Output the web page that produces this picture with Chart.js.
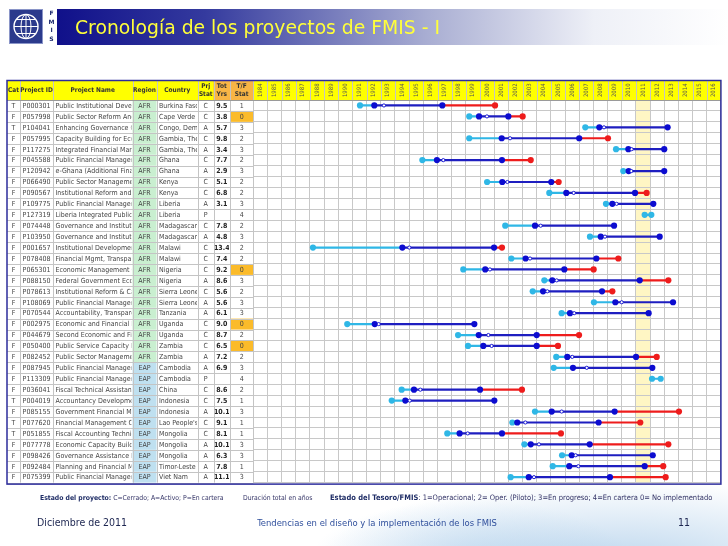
<!DOCTYPE html>
<html>
<head>
<meta charset="utf-8">
<script src="https://cdn.jsdelivr.net/npm/chart.js@4.4.0/dist/chart.umd.min.js"></script>
<style>
  html, body { margin: 0; padding: 0; width: 728px; height: 546px; overflow: hidden; }
  body {
    background:
      radial-gradient(ellipse 300px 80px at 620px 560px, rgba(140, 185, 225, 0.55), rgba(255, 255, 255, 0) 100%),
      radial-gradient(ellipse 160px 60px at 470px 560px, rgba(170, 205, 235, 0.45), rgba(255, 255, 255, 0) 100%),
      #fff;
  }
  canvas { display: block; }
</style>
</head>
<body>
<canvas id="timeline" width="728" height="546"></canvas>
<script>
// ---- datos de la tabla ----
const cats = ["T", "F", "T", "F", "F", "F", "F", "F", "F", "F", "F", "F", "F", "F", "F", "F", "F", "F",
  "F", "F", "F", "F", "F", "F", "F", "F", "F", "T", "F", "T", "T", "F", "F", "F", "F"];
const projectIds = ["P000301", "P057998", "P104041", "P057995", "P117275", "P045588", "P120942", "P066490",
  "P090567", "P109775", "P127319", "P074448", "P103950", "P001657", "P078408", "P065301", "P088150",
  "P078613", "P108069", "P070544", "P002975", "P044679", "P050400", "P082452", "P087945", "P113309",
  "P036041", "P004019", "P085155", "P077620", "P051855", "P077778", "P098426", "P092484", "P075399"];
const projectNames = ["Public Institutional Devel", "Public Sector Reform And", "Enhancing Governance Ca",
  "Capacity Building for Econ", "Integrated Financial Mana", "Public Financial Managem",
  "e-Ghana (Additional Finar", "Public Sector Managemen", "Institutional Reform and C",
  "Public Financial Managem", "Liberia Integrated Public F", "Governance and Institutio",
  "Governance and Institutio", "Institutional Development", "Financial Mgmt, Transpar",
  "Economic Management Ca", "Federal Government Econ", "Institutional Reform & Cap",
  "Public Financial Managem", "Accountability, Transpare", "Economic and Financial M",
  "Second Economic and Fina", "Public Service Capacity Bu", "Public Sector Managemen",
  "Public Financial Managem", "Public Financial Managem", "Fiscal Technical Assistanc",
  "Accountancy Development", "Government Financial Ma", "Financial Management Ca",
  "Fiscal Accounting Technic", "Economic Capacity Buildi", "Governance Assistance Pr",
  "Planning and Financial M", "Public Financial Managem"];
const regions = ["AFR", "AFR", "AFR", "AFR", "AFR", "AFR", "AFR", "AFR", "AFR", "AFR", "AFR", "AFR",
  "AFR", "AFR", "AFR", "AFR", "AFR", "AFR", "AFR", "AFR", "AFR", "AFR", "AFR", "AFR",
  "EAP", "EAP", "EAP", "EAP", "EAP", "EAP", "EAP", "EAP", "EAP", "EAP", "EAP"];
const countries = ["Burkina Faso", "Cape Verde", "Congo, Demo", "Gambia, The", "Gambia, The", "Ghana",
  "Ghana", "Kenya", "Kenya", "Liberia", "Liberia", "Madagascar", "Madagascar", "Malawi", "Malawi",
  "Nigeria", "Nigeria", "Sierra Leone", "Sierra Leone", "Tanzania", "Uganda", "Uganda", "Zambia",
  "Zambia", "Cambodia", "Cambodia", "China", "Indonesia", "Indonesia", "Lao People's", "Mongolia",
  "Mongolia", "Mongolia", "Timor-Leste", "Viet Nam"];
const prjStats = ["C", "C", "A", "C", "A", "C", "A", "C", "C", "A", "P", "C", "A", "C", "C", "C", "A",
  "C", "A", "A", "C", "C", "C", "A", "A", "P", "C", "C", "A", "C", "C", "A", "A", "A", "A"];
const totYears = [9.5, 3.8, 5.7, 9.8, 3.4, 7.7, 2.9, 5.1, 6.8, 3.1, null, 7.8, 4.8, 13.4, 7.4, 9.2, 8.6,
  5.6, 5.6, 6.1, 9.0, 8.7, 6.5, 7.2, 6.9, null, 8.6, 7.5, 10.1, 9.1, 8.1, 10.1, 6.3, 7.8, 11.1];
const tfStats = [1, 0, 3, 2, 3, 2, 3, 2, 2, 3, 4, 2, 3, 2, 2, 0, 3, 2, 3, 3, 0, 2, 0, 2, 3, 4, 2, 1, 3,
  1, 1, 3, 3, 1, 3];

// ---- fechas del cronograma (años) ----
const startYears = [1991.53, 1999.24, 2007.43, 1999.24, 2009.60, 1995.93, 2010.11, 2000.50, 2004.89,
  2008.89, 2011.62, 2001.78, 2007.76, 1988.21, 2002.21, 1998.82, 2004.54, 2003.72, 2008.04, 2005.76,
  1990.63, 1998.45, 1999.15, 2005.38, 2005.20, 2012.14, 1994.47, 1993.77, 2003.88, 2002.28, 1997.69,
  2003.13, 2005.79, 2005.13, 2002.16];
const approvalYears = [1992.54, 1999.93, 2008.42, 2001.53, 2010.47, 1996.96, 2010.49, 2001.57, 2006.09,
  2009.34, 2012.09, 2003.88, 2008.52, 1994.52, 2003.22, 2000.37, 2005.10, 2004.45, 2009.55, 2006.35,
  1992.57, 1999.91, 2000.23, 2006.16, 2006.56, 2012.75, 1995.34, 1994.73, 2005.06, 2002.63, 1998.56,
  2003.58, 2006.47, 2006.30, 2003.44];
const effectiveYears = [1993.22, 2000.49, 2008.75, 2002.12, 2010.70, 1997.41, 2010.68, 2001.93, 2006.61,
  2009.64, null, 2004.28, 2008.82, 1995.01, 2003.53, 2000.70, 2005.41, 2004.75, 2010.00, 2006.65,
  1992.85, 2000.59, 2000.82, 2006.51, 2007.53, null, 1995.79, 1995.04, 2005.76, 2003.20, 1999.13,
  2004.16, 2006.75, 2006.94, 2003.81];
const closingYears = [1997.34, 2002.00, 2013.24, 2007.00, 2013.00, 2001.55, 2013.00, 2005.03, 2010.94,
  2012.23, null, 2009.46, 2012.68, 2000.99, 2008.21, 2005.95, 2011.27, 2008.61, 2013.62, 2011.90,
  1999.60, 2004.00, 2004.00, 2011.01, 2012.16, null, 2000.00, 2001.01, 2009.50, 2008.37, 2001.55,
  2007.74, 2012.19, 2011.62, 2009.17];
const revisedClosingYears = [2001.06, 2003.01, null, 2009.03, null, 2003.58, null, 2005.55, 2011.76,
  null, null, null, null, 2001.55, 2009.76, 2008.02, 2013.29, 2009.34, null, null, null, 2006.99,
  2005.50, 2012.47, null, null, 2002.96, null, 2014.04, 2011.31, 2005.71, 2013.29, null, 2012.93, 2013.10];

const yearLabels = ["1984", "1985", "1986", "1987", "1988", "1989", "1990", "1991", "1992", "1993",
  "1994", "1995", "1996", "1997", "1998", "1999", "2000", "2001", "2002", "2003", "2004", "2005",
  "2006", "2007", "2008", "2009", "2010", "2011", "2012", "2013", "2014", "2015", "2016"];
const headerLabels = ["Cat", "Project ID", "Project Name", "Region", "Country", "Prj\nStat", "Tot\nYrs", "T/F\nStat"];

// ---- layout ----
const colEdges = [7, 20, 53, 132.5, 156.5, 198, 213.5, 230, 253.3];
const colAlign = ["center", "center", "left", "center", "left", "center", "center", "center"];
const tableTop = 80.5;
const FONT = "'Liberation Sans Narrow', 'DejaVu Sans Condensed', sans-serif";

function segment(from, to, skipPipeline) {
  const pts = [];
  from.forEach((a, i) => {
    const b = to[i];
    if (a == null || b == null) return;
    if (skipPipeline && prjStats[i] === "P") return;
    pts.push({ x: a, y: i + 0.5 }, { x: b, y: i + 0.5 }, { x: b, y: null });
  });
  return pts;
}

function dots(list, test) {
  const pts = [];
  list.forEach((v, i) => {
    if (v != null && (!test || test(i))) pts.push({ x: v, y: i + 0.5 });
  });
  return pts;
}

const lightLine = segment(startYears, approvalYears, false);
const darkLine = segment(approvalYears, closingYears, true);
const redLine = segment(closingYears, revisedClosingYears, false);

const lightDots = dots(startYears).concat(dots(approvalYears, (i) => prjStats[i] === "P"));
const darkDots = dots(approvalYears, (i) => prjStats[i] !== "P").concat(dots(closingYears));
const openDots = dots(effectiveYears);
const redDots = dots(revisedClosingYears);

function drawText(ctx, parts, x, y) {
  parts.forEach(([txt, font, color]) => {
    ctx.font = font;
    ctx.fillStyle = color;
    ctx.fillText(txt, x, y);
    x += ctx.measureText(txt).width;
  });
}

const slidePlugin = {
  id: "slide",
  beforeDraw(chart) {
    const { ctx } = chart;
    const x = chart.scales.x, y = chart.scales.y;
    const headBottom = y.getPixelForValue(0);
    const bottom = y.getPixelForValue(35);
    ctx.save();

    // barra de titulo
    const grad = ctx.createLinearGradient(57, 0, 728, 0);
    grad.addColorStop(0, "#10108a");
    grad.addColorStop(0.22, "#343a9e");
    grad.addColorStop(0.55, "#a8add2");
    grad.addColorStop(0.8, "#eef0f7");
    grad.addColorStop(1, "#ffffff");
    ctx.fillStyle = grad;
    ctx.fillRect(57, 9, 671, 36);

    // logo
    ctx.fillStyle = "#2b3a8c";
    ctx.fillRect(9, 9, 34, 35);
    ctx.strokeStyle = "#8a95c8";
    ctx.lineWidth = 1;
    ctx.strokeRect(9.5, 9.5, 33, 34);
    ctx.strokeStyle = "#ffffff";
    ctx.lineWidth = 1.4;
    ctx.beginPath(); ctx.arc(26, 26.5, 12, 0, Math.PI * 2); ctx.stroke();
    ctx.lineWidth = 1;
    ctx.beginPath(); ctx.ellipse(26, 26.5, 5, 12, 0, 0, Math.PI * 2); ctx.stroke();
    ctx.beginPath(); ctx.moveTo(26, 14.5); ctx.lineTo(26, 38.5); ctx.stroke();
    [-7, 0, 7].forEach((d) => {
      const hw = Math.sqrt(144 - d * d);
      ctx.beginPath(); ctx.moveTo(26 - hw, 26.5 + d); ctx.lineTo(26 + hw, 26.5 + d); ctx.stroke();
    });
    ctx.fillStyle = "#1d2a6e";
    ctx.font = "bold 6px 'DejaVu Sans', sans-serif";
    ctx.textAlign = "center";
    ctx.textBaseline = "middle";
    ["F", "M", "I", "S"].forEach((ch, k) => ctx.fillText(ch, 51.5, 13.5 + k * 8.5));

    // titulo
    ctx.textAlign = "left";
    ctx.textBaseline = "alphabetic";
    ctx.fillStyle = "#ffff3a";
    ctx.font = "18.8px 'DejaVu Sans', sans-serif";
    ctx.fillText("Cronología de los proyectos de FMIS - I", 75, 34);

    // fondo de la tabla
    ctx.fillStyle = "#ffffff";
    ctx.fillRect(7, tableTop, x.right - 7, bottom - tableTop);
    ctx.fillStyle = "#ffff00";
    ctx.fillRect(7, tableTop, x.right - 7, headBottom - tableTop);
    ctx.fillStyle = "#f8b545";
    ctx.fillRect(colEdges[6], tableTop, colEdges[8] - colEdges[6], headBottom - tableTop);

    for (let i = 0; i < regions.length; i++) {
      const t = y.getPixelForValue(i), b = y.getPixelForValue(i + 1);
      ctx.fillStyle = regions[i] === "AFR" ? "#c9efd0" : "#bfe0f0";
      ctx.fillRect(colEdges[3], t, colEdges[4] - colEdges[3], b - t);
      if (tfStats[i] === 0) {
        ctx.fillStyle = "#fbbb2a";
        ctx.fillRect(colEdges[7], t, colEdges[8] - colEdges[7], b - t);
      }
    }
    // columna 2011 resaltada
    const x0 = x.getPixelForValue(2011), x1 = x.getPixelForValue(2012);
    ctx.fillStyle = "#fff6c4";
    ctx.fillRect(x0, headBottom, x1 - x0, bottom - headBottom);
    ctx.restore();
  },
  afterDraw(chart) {
    const { ctx } = chart;
    const x = chart.scales.x, y = chart.scales.y;
    const headBottom = y.getPixelForValue(0);
    const bottom = y.getPixelForValue(35);
    ctx.save();

    // lineas de la tabla
    ctx.strokeStyle = "#c4c4c4";
    ctx.lineWidth = 1;
    for (let i = 1; i <= 35; i++) {
      const py = Math.round(y.getPixelForValue(i)) + 0.5;
      ctx.beginPath(); ctx.moveTo(7, py); ctx.lineTo(colEdges[8], py); ctx.stroke();
    }
    colEdges.slice(1).forEach((cx) => {
      const px = Math.round(cx) + 0.5;
      ctx.beginPath(); ctx.moveTo(px, tableTop); ctx.lineTo(px, bottom); ctx.stroke();
    });
    for (let k = 1; k < yearLabels.length; k++) {
      const px = Math.round(x.getPixelForValue(1984 + k)) + 0.5;
      ctx.beginPath(); ctx.moveTo(px, tableTop); ctx.lineTo(px, headBottom); ctx.stroke();
    }
    ctx.strokeStyle = "#9a9a9a";
    ctx.beginPath(); ctx.moveTo(7, Math.round(headBottom) + 0.5); ctx.lineTo(x.right, Math.round(headBottom) + 0.5); ctx.stroke();

    // encabezados
    ctx.fillStyle = "#333333";
    ctx.textAlign = "center";
    ctx.textBaseline = "middle";
    ctx.font = "bold 6.5px " + FONT;
    const hMid = (tableTop + headBottom) / 2;
    headerLabels.forEach((lab, c) => {
      const cx = (colEdges[c] + colEdges[c + 1]) / 2;
      const lines = lab.split("\n");
      lines.forEach((ln, k) => ctx.fillText(ln, cx, hMid + (k - (lines.length - 1) / 2) * 7.5));
    });
    ctx.font = "6px " + FONT;
    ctx.fillStyle = "#555555";
    yearLabels.forEach((lab, k) => {
      const cx = x.getPixelForValue(1984 + k + 0.5);
      ctx.save();
      ctx.translate(cx, hMid);
      ctx.rotate(-Math.PI / 2);
      ctx.fillText(lab, 0, 0);
      ctx.restore();
    });

    // filas
    for (let i = 0; i < projectIds.length; i++) {
      const my = y.getPixelForValue(i + 0.5) + 0.5;
      const cells = [cats[i], projectIds[i], projectNames[i], regions[i], countries[i], prjStats[i],
        totYears[i] == null ? "" : totYears[i].toFixed(1), String(tfStats[i])];
      cells.forEach((txt, c) => {
        const l = colEdges[c], r = colEdges[c + 1];
        ctx.save();
        ctx.beginPath(); ctx.rect(l + 1, my - 6, r - l - 2, 12); ctx.clip();
        ctx.font = (c === 6 ? "bold 7px " : "7px ") + FONT;
        ctx.fillStyle = c === 6 ? "#222222" : "#444444";
        ctx.textAlign = colAlign[c];
        ctx.fillText(txt, colAlign[c] === "left" ? l + 2.5 : (l + r) / 2, my);
        ctx.restore();
      });
    }

    // marco
    ctx.strokeStyle = "#2c2c9c";
    ctx.lineWidth = 1.5;
    ctx.strokeRect(7, tableTop, x.right - 7, bottom - tableTop + 1.5);

    // notas al pie
    ctx.textAlign = "left";
    ctx.textBaseline = "alphabetic";
    const small = "6.8px " + FONT, smallB = "bold 6.8px " + FONT;
    const wide = "7.5px " + FONT, wideB = "bold 7.5px " + FONT;
    drawText(ctx, [["Estado del proyecto:", smallB, "#1f2d66"], [" C=Cerrado; A=Activo; P=En cartera", small, "#333366"]], 40, 500);
    drawText(ctx, [["Duración total en años", small, "#333366"]], 243, 500);
    drawText(ctx, [["Estado del Tesoro/FMIS", wideB, "#1f2d66"],
      [": 1=Operacional; 2= Oper. (Piloto); 3=En progreso; 4=En cartera 0= No implementado", wide, "#333366"]], 330, 500);

    ctx.font = "10.5px " + FONT;
    ctx.fillStyle = "#1c2550";
    ctx.fillText("Diciembre de 2011", 37, 526);
    ctx.fillStyle = "#2f4f9c";
    ctx.textAlign = "center";
    ctx.font = "9.4px " + FONT;
    ctx.fillText("Tendencias en el diseño y la implementación de los FMIS", 377, 526);
    ctx.fillStyle = "#1c2550";
    ctx.textAlign = "left";
    ctx.font = "10.5px " + FONT;
    ctx.fillText("11", 678, 526);
    ctx.restore();
  }
};

const LIGHT = "#2fb7e6", DARK = "#0c0cd0", DARK_LINE = "#1e1ec0", RED = "#ee1c1c";

new Chart(document.getElementById("timeline").getContext("2d"), {
  type: "scatter",
  data: {
    datasets: [
      { type: "scatter", data: openDots, pointRadius: 1.6, pointBackgroundColor: "#ffffff",
        pointBorderColor: DARK, pointBorderWidth: 0.9, order: 0 },
      { type: "scatter", data: darkDots, pointRadius: 3.1, pointBackgroundColor: DARK, pointBorderWidth: 0, order: 1 },
      { type: "scatter", data: redDots, pointRadius: 3.1, pointBackgroundColor: RED, pointBorderWidth: 0, order: 2 },
      { type: "scatter", data: lightDots, pointRadius: 3.1, pointBackgroundColor: LIGHT, pointBorderWidth: 0, order: 3 },
      { type: "line", data: darkLine, borderColor: DARK_LINE, borderWidth: 2.2, pointRadius: 0, spanGaps: false, order: 4 },
      { type: "line", data: redLine, borderColor: RED, borderWidth: 2.2, pointRadius: 0, spanGaps: false, order: 5 },
      { type: "line", data: lightLine, borderColor: LIGHT, borderWidth: 2.2, pointRadius: 0, spanGaps: false, order: 6 }
    ]
  },
  options: {
    responsive: false,
    animation: false,
    events: [],
    layout: { padding: { left: 253.3, right: 7.1, top: 100, bottom: 63.4 } },
    plugins: { legend: { display: false }, tooltip: { enabled: false } },
    scales: {
      x: {
        type: "linear", min: 1984, max: 2017,
        ticks: { display: false, stepSize: 1 },
        grid: { color: "#c8c8c8", drawTicks: false },
        border: { display: false },
        afterFit(s) { s.height = 0; }
      },
      y: {
        type: "linear", min: 0, max: 35, reverse: true,
        ticks: { display: false, stepSize: 1 },
        grid: { color: "#c8c8c8", drawTicks: false },
        border: { display: false },
        afterFit(s) { s.width = 0; }
      }
    }
  },
  plugins: [slidePlugin]
});
</script>
</body>
</html>
